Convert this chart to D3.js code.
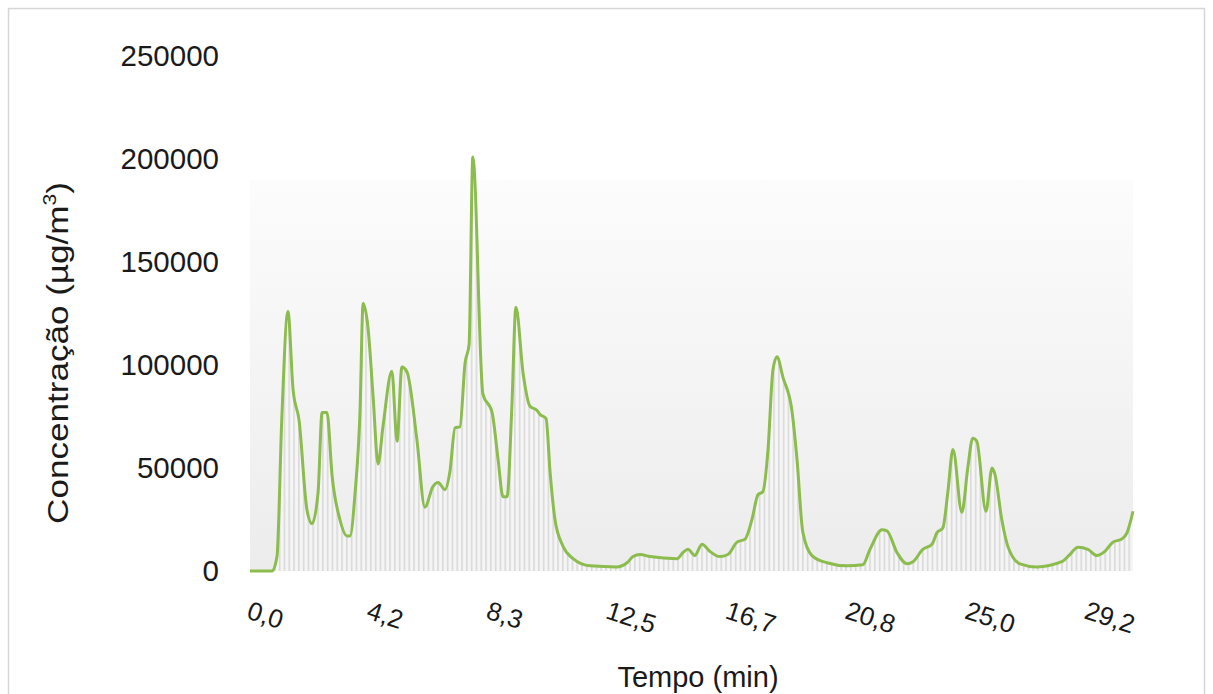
<!DOCTYPE html>
<html>
<head>
<meta charset="utf-8">
<script src="https://cdn.jsdelivr.net/npm/d3@7"></script>
<style>
  body { margin: 0; background: #fff; }
  svg { display: block; font-family: "Liberation Sans", Arial, sans-serif; }
</style>
</head>
<body>
<div id="chart"></div>
<script>
// time (min) and concentration (ug/m3)
var tempo = [0, 0.77, 0.94, 1.11, 1.32, 1.50, 1.71, 1.98, 2.16, 2.37, 2.51, 2.68, 2.86, 3.13, 3.38, 3.48,
    3.66, 3.83, 3.94, 4.11, 4.29, 4.46, 4.63, 4.94, 5.12, 5.29, 5.47, 5.81, 6.09, 6.37, 6.55, 6.79,
    6.96, 7.14, 7.31, 7.49, 7.63, 7.76, 8.11, 8.43, 8.64, 8.81, 8.95, 9.12, 9.26, 9.51, 9.75, 9.99,
    10.10, 10.31, 10.45, 10.62, 10.90, 11.25, 11.84, 12.78, 13.13, 13.34, 13.58, 13.93, 14.87, 15.08,
    15.25, 15.49, 15.74, 16.02, 16.36, 16.64, 16.96, 17.24, 17.48, 17.69, 17.86, 18.04, 18.21, 18.35,
    18.56, 18.87, 19.05, 19.25, 19.57, 20.09, 20.79, 21.34, 21.59, 22.01, 22.18, 22.53, 22.88, 23.09,
    23.43, 23.75, 23.92, 24.13, 24.30, 24.48, 24.79, 25.00, 25.17, 25.31, 25.63, 25.84, 25.94, 26.18,
    26.39, 26.81, 27.40, 28.27, 28.55, 28.83, 29.18, 29.49, 29.77, 30.05, 30.36, 30.54, 30.75];
var concentracao = [0, 0, 7000, 75000, 126000, 88000, 73000, 30000, 23000, 38000, 77000, 77000, 46000, 25000, 17000, 17000,
    38000, 77000, 130000, 118000, 84000, 52000, 70000, 97000, 63000, 99000, 96500, 64000, 31000, 41000, 43000, 39500,
    48000, 69500, 70000, 101000, 110000, 201000, 86000, 77000, 54000, 36000, 36000, 80000, 128000, 96000, 80000, 78000,
    76000, 74000, 48000, 25000, 12000, 6000, 2500, 2000, 4000, 7000, 8000, 7000, 6000, 9000,
    10500, 7500, 13000, 9500, 7000, 8000, 14000, 15500, 25000, 37000, 38500, 59000, 97500, 104000,
    94000, 78000, 54000, 19000, 7500, 4000, 2500, 3000, 10500, 20000, 19500, 9000, 3500, 4500,
    10500, 13000, 18500, 21000, 38000, 59000, 28500, 50500, 64500, 63000, 29000, 50000, 47000, 25000,
    12000, 3500, 2000, 4500, 8000, 11500, 10500, 7500, 9500, 14000, 15500, 18500, 29000];

var tickTempo = [0, 25, 50, 75, 100, 125, 150, 175].map(function (i) { return i * 10 / 60; });
var tickLabels = ["0,0", "4,2", "8,3", "12,5", "16,7", "20,8", "25,0", "29,2"];
var yTicks = [0, 50000, 100000, 150000, 200000, 250000];

var data = tempo.map(function (t, i) { return { t: t, v: concentracao[i] }; });

var w = 1213, h = 694;
var x0 = 250, x1 = 1133, yBase = 571, yTop = 56;

var svg = d3.select("#chart").append("svg")
    .attr("width", w)
    .attr("height", h);

// outer frame
svg.append("rect")
    .attr("x", 8.5).attr("y", 8.5)
    .attr("width", 1196).attr("height", 700)
    .attr("fill", "none")
    .attr("stroke", "#d6d6d6")
    .attr("stroke-width", 1.5);

var xScale = d3.scaleLinear().domain([0, 30.75]).range([x0, x1]);
var yScale = d3.scaleLinear().domain([0, 250000]).range([yBase, yTop]);

var defs = svg.append("defs");
var grad = defs.append("linearGradient")
    .attr("id", "bg").attr("x1", 0).attr("y1", 0).attr("x2", 0).attr("y2", 1);
grad.append("stop").attr("offset", "0%").attr("stop-color", "#fcfcfc");
grad.append("stop").attr("offset", "100%").attr("stop-color", "#ececec");

var pat = defs.append("pattern")
    .attr("id", "stripes")
    .attr("patternUnits", "userSpaceOnUse")
    .attr("x", x0).attr("y", 0)
    .attr("width", 4.8).attr("height", 10);
pat.append("rect").attr("width", 4.8).attr("height", 10).attr("fill", "#f7f7f7");
pat.append("rect").attr("x", 0).attr("width", 1.6).attr("height", 10).attr("fill", "#d4d4d4");

// plot background
svg.append("rect")
    .attr("x", x0).attr("y", yScale(190000))
    .attr("width", x1 - x0).attr("height", yBase - yScale(190000))
    .attr("fill", "url(#bg)");

var area = d3.area()
    .x(function (d) { return xScale(d.t); })
    .y0(yBase)
    .y1(function (d) { return yScale(d.v); })
    .curve(d3.curveMonotoneX);

svg.append("path")
    .datum(data)
    .attr("d", area)
    .attr("fill", "url(#stripes)")
    .attr("opacity", 0.8);

var line = d3.line()
    .x(function (d) { return xScale(d.t); })
    .y(function (d) { return yScale(d.v); })
    .curve(d3.curveMonotoneX);

svg.append("path")
    .datum(data)
    .attr("d", line)
    .attr("fill", "none")
    .attr("stroke", "#8cbb4e")
    .attr("stroke-width", 3)
    .attr("stroke-linejoin", "round");

// y axis
var yAxis = d3.axisLeft(yScale)
    .tickValues(yTicks)
    .tickFormat(d3.format("d"))
    .tickSize(0)
    .tickPadding(31);

var gy = svg.append("g")
    .attr("transform", "translate(" + x0 + ",0)")
    .call(yAxis);
gy.select(".domain").remove();
gy.selectAll("text")
    .attr("font-size", 29.5)
    .attr("font-family", "Liberation Sans, Arial, sans-serif")
    .attr("fill", "#1a1a1a");

// x axis, labels tilted
var xAxis = d3.axisBottom(xScale)
    .tickValues(tickTempo)
    .tickFormat(function (d, i) { return tickLabels[i]; })
    .tickSize(0);

var gx = svg.append("g")
    .attr("transform", "translate(0," + yBase + ")")
    .call(xAxis);
gx.select(".domain").remove();
gx.selectAll("text")
    .attr("font-size", 26)
    .attr("font-family", "Liberation Sans, Arial, sans-serif")
    .attr("fill", "#1a1a1a")
    .attr("text-anchor", "start")
    .attr("dy", 0)
    .attr("y", 0)
    .attr("transform", "translate(-5,47) rotate(18)");

// axis titles
svg.append("text")
    .attr("x", 698).attr("y", 687)
    .attr("text-anchor", "middle")
    .attr("font-size", 29)
    .attr("fill", "#1a1a1a")
    .text("Tempo (min)");

var yt = svg.append("text")
    .attr("transform", "translate(68,353) rotate(-90) scale(1.17,1)")
    .attr("text-anchor", "middle")
    .attr("font-size", 30)
    .attr("fill", "#1a1a1a");
yt.append("tspan").text("Concentração (µg/m");
yt.append("tspan").attr("font-size", 18).attr("dy", -12).text("3");
yt.append("tspan").attr("dy", 12).text(")");
</script>
</body>
</html>
